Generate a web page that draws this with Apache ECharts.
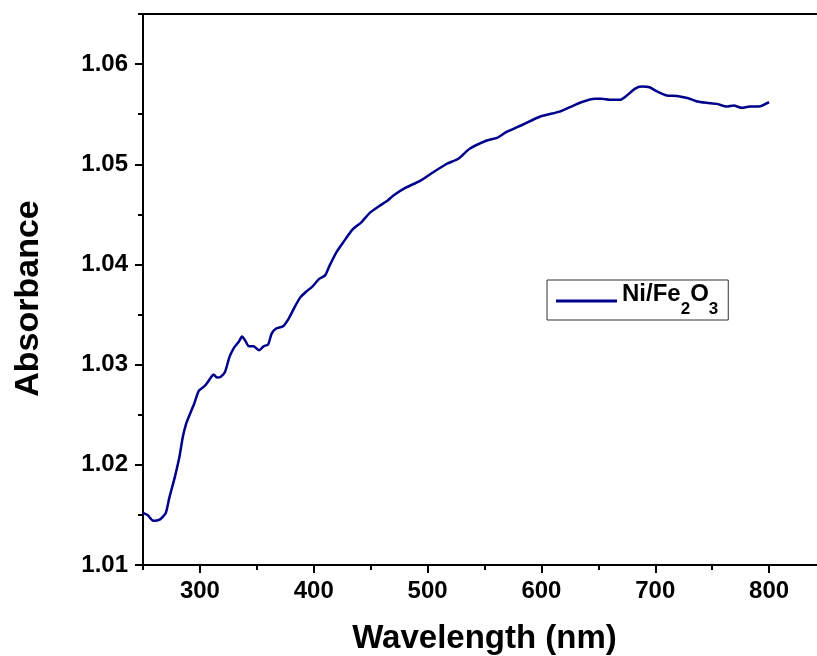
<!DOCTYPE html>
<html>
<head>
    <meta charset="utf-8"/>
    <title>Absorbance</title>
    <script src="https://cdn.jsdelivr.net/npm/echarts@6.0.0/dist/echarts.min.js"></script>
    <style>
        html, body { margin: 0; padding: 0; background: #fff; }
    </style>
</head>
<body>
<div id="main" style="width: 817px; height: 656px;"></div>
<script type="text/javascript">
    // wavelength (nm) and absorbance
    var wavelength = [250, 254, 259, 265, 270, 273, 278, 282, 285, 288, 290, 295, 299, 304, 306, 309, 312, 315, 318, 322,
        326, 330, 334, 337, 340, 343, 347, 352, 356, 360, 363, 367, 373, 378, 383, 388, 393, 399, 405, 410,
        414, 420, 426, 434, 442, 449, 457, 465, 470, 480, 493, 505, 517, 527, 537, 552, 561, 569, 584, 599,
        616, 625, 635, 647, 653, 660, 669, 675, 682, 688, 695, 701, 710, 719, 729, 736, 745, 754, 763, 769,
        776, 783, 791, 800];
    var absorbance = [1.01520, 1.01498, 1.01442, 1.01456, 1.01520, 1.01665, 1.01880, 1.02080, 1.02280, 1.02413,
        1.02473, 1.02612, 1.02738, 1.02785, 1.02812, 1.02861, 1.02901, 1.02871, 1.02877, 1.02927,
        1.03077, 1.03170, 1.03226, 1.03280, 1.03236, 1.03183, 1.03183, 1.03144, 1.03183, 1.03203,
        1.03310, 1.03360, 1.03383, 1.03460, 1.03570, 1.03669, 1.03725, 1.03782, 1.03858, 1.03891,
        1.03991, 1.04124, 1.04223, 1.04347, 1.04423, 1.04513, 1.04579, 1.04639, 1.04689, 1.04762,
        1.04832, 1.04921, 1.05005, 1.05055, 1.05155, 1.05237, 1.05264, 1.05320, 1.05397, 1.05477,
        1.05525, 1.05570, 1.05619, 1.05653, 1.05653, 1.05643, 1.05643, 1.05686, 1.05753, 1.05776,
        1.05769, 1.05729, 1.05686, 1.05682, 1.05659, 1.05629, 1.05613, 1.05603, 1.05576, 1.05586,
        1.05563, 1.05576, 1.05576, 1.05620];

    var xMajor = [300, 400, 500, 600, 700, 800];
    var xMinor = [250, 350, 450, 550, 650, 750, 850];
    var yMajor = [1.01, 1.02, 1.03, 1.04, 1.05, 1.06];
    var yMinor = [1.015, 1.025, 1.035, 1.045, 1.055, 1.065];

    var font = 'Liberation Sans, Arial, sans-serif';
    var ink = '#000';
    var navy = '#00008B';

    var points = wavelength.map(function (w, i) { return [w, absorbance[i]]; });

    var myChart = echarts.init(document.getElementById('main'));

    myChart.setOption({
        backgroundColor: '#fff',
        animation: false,
        grid: {
            left: 143, top: 14, right: -9, bottom: 91,
            containLabel: false,
            outerBoundsMode: 'none',
            show: true,
            borderColor: ink,
            borderWidth: 2
        },
        legend: {
            left: 547, top: 280,
            orient: 'vertical',
            padding: [2, 10, 0, 9],
            borderColor: '#333',
            borderWidth: 1,
            icon: 'rect',
            itemWidth: 61,
            itemHeight: 3,
            itemGap: 0,
            itemStyle: {color: navy},
            data: [{name: 'Ni/Fe2O3'}],
            formatter: function () {
                return '{a|Ni/Fe}{s|2}{a|O}{s|3}';
            },
            textStyle: {
                rich: {
                    a: {fontFamily: font, fontWeight: 'bold', fontSize: 24, color: ink, lineHeight: 26, padding: [0, 0, 14, 0]},
                    s: {fontFamily: font, fontWeight: 'bold', fontSize: 17, color: ink, lineHeight: 18, padding: [16, 0, 0, 0]}
                }
            }
        },
        xAxis: [{
            type: 'value',
            position: 'bottom',
            min: 250, max: 850, interval: 50,
            name: 'Wavelength (nm)',
            nameLocation: 'middle',
            nameGap: 57,
            nameTextStyle: {fontFamily: font, fontWeight: 'bold', fontSize: 33, color: ink},
            axisLine: {onZero: false, lineStyle: {color: ink, width: 2}},
            axisTick: {customValues: xMajor, length: 8, lineStyle: {color: ink, width: 2}},
            axisLabel: {customValues: xMajor, margin: 14, fontFamily: font, fontWeight: 'bold', fontSize: 24, color: ink},
            splitLine: {show: false}
        }, {
            type: 'value',
            position: 'bottom',
            min: 250, max: 850, interval: 50,
            axisLine: {show: false, onZero: false},
            axisTick: {customValues: xMinor, length: 5, lineStyle: {color: ink, width: 2}},
            axisLabel: {show: false},
            splitLine: {show: false}
        }],
        yAxis: [{
            type: 'value',
            position: 'left',
            min: 1.01, max: 1.065, interval: 0.005,
            name: 'Absorbance',
            nameLocation: 'middle',
            nameGap: 97,
            nameTextStyle: {fontFamily: font, fontWeight: 'bold', fontSize: 34, color: ink, padding: [0, 18, 0, 0]},
            axisLine: {onZero: false, lineStyle: {color: ink, width: 2}},
            axisTick: {customValues: yMajor, length: 8, lineStyle: {color: ink, width: 2}},
            axisLabel: {
                customValues: yMajor, margin: 15, fontFamily: font, fontWeight: 'bold', fontSize: 24, color: ink,
                formatter: function (v) { return v.toFixed(2); }
            },
            splitLine: {show: false}
        }, {
            type: 'value',
            position: 'left',
            min: 1.01, max: 1.065, interval: 0.005,
            axisLine: {show: false, onZero: false},
            axisTick: {customValues: yMinor, length: 5, lineStyle: {color: ink, width: 2}},
            axisLabel: {show: false},
            splitLine: {show: false}
        }],
        series: [{
            name: 'Ni/Fe2O3',
            type: 'line',
            xAxisIndex: 0,
            yAxisIndex: 0,
            symbol: 'none',
            smooth: 0.2,
            lineStyle: {color: navy, width: 2.5},
            itemStyle: {color: navy},
            data: points
        }]
    });
</script>
</body>
</html>
